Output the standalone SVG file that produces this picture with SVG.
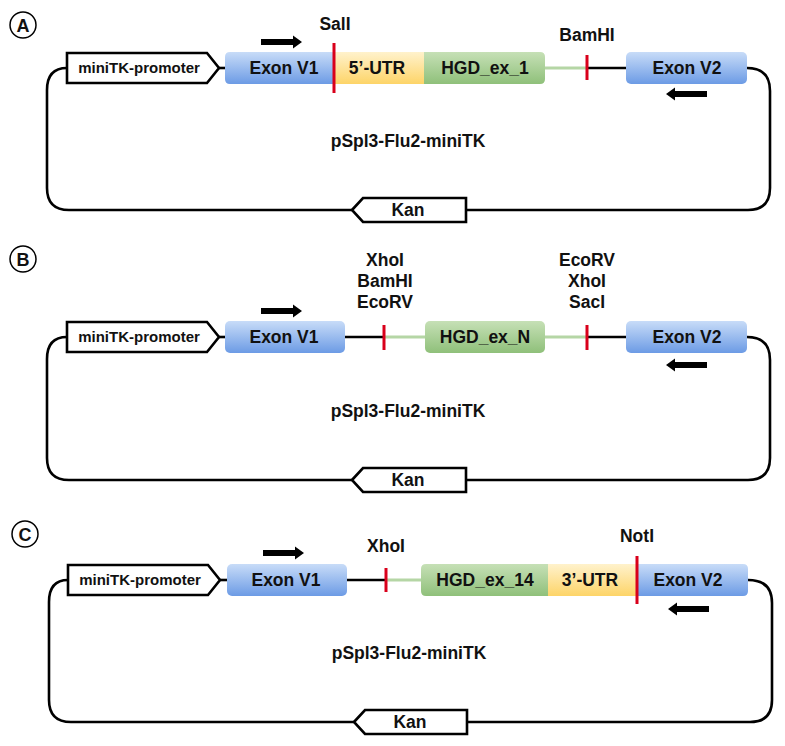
<svg xmlns="http://www.w3.org/2000/svg" width="785" height="746" viewBox="0 0 785 746">
<defs>
<linearGradient id="gBlue" x1="0" y1="0" x2="0" y2="1"><stop offset="0" stop-color="#c8dcf8"/><stop offset="1" stop-color="#6c9be5"/></linearGradient>
<linearGradient id="gYel" x1="0" y1="0" x2="0" y2="1"><stop offset="0" stop-color="#fff2cc"/><stop offset="1" stop-color="#fdd468"/></linearGradient>
<linearGradient id="gGrn" x1="0" y1="0" x2="0" y2="1"><stop offset="0" stop-color="#c6e0b6"/><stop offset="1" stop-color="#8fc07a"/></linearGradient>
<path id="fwd" d="M0,-3 H32 V-6.5 L41,0 L32,6.5 V3 H0 Z"/>
<path id="rev" d="M0,-3 H-32 V-6.5 L-41,0 L-32,6.5 V3 H0 Z"/>
</defs>
<style>
text{font-family:"Liberation Sans",Arial,sans-serif;font-weight:bold;fill:#111;text-anchor:middle}
.t{font-size:17.5px}
.p{font-size:15px}
.c{font-size:18px}
.line{fill:none;stroke:#000;stroke-width:2.6}
.gl{fill:none;stroke:#b5d6a5;stroke-width:3}
.red{fill:none;stroke:#d9001b;stroke-width:3}
.prom{fill:#fff;stroke:#000;stroke-width:2.6}
.circ{fill:#fff;stroke:#000;stroke-width:1.5}
.blue{fill:url(#gBlue)}
.yel{fill:url(#gYel)}
.grn{fill:url(#gGrn)}
.arr{fill:#000}
</style>
<rect width="785" height="746" fill="#fff"/>

<g id="connectors">
<!-- A -->
<path class="line" d="M747,68 Q770,68 770,91 V188 Q770,210 748,210 H466"/>
<path class="line" d="M352,210 H69 Q47,210 47,188 V90 Q47,68 67,68"/>
<path class="line" d="M219,68 H225"/>
<path class="gl" d="M545,68 H587"/>
<path class="line" d="M587,68 H626"/>
<!-- B -->
<path class="line" d="M747,337 Q770,337 770,360 V458 Q770,480 748,480 H466"/>
<path class="line" d="M352,480 H69 Q47,480 47,458 V359 Q47,337 67,337"/>
<path class="line" d="M219,337 H225"/>
<path class="line" d="M345,337 H384"/>
<path class="gl" d="M384,337 H425"/>
<path class="gl" d="M545,337 H587"/>
<path class="line" d="M587,337 H626"/>
<!-- C -->
<path class="line" d="M748,580 Q772,580 772,603 V700 Q772,722 750,722 H467"/>
<path class="line" d="M354,722 H71 Q49,722 49,700 V602 Q49,580 68,580"/>
<path class="line" d="M220,580 H227"/>
<path class="line" d="M347,580 H386"/>
<path class="gl" d="M386,580 H421"/>
</g>

<!-- Panel A -->
<g id="labelA"><circle class="circ" cx="23" cy="25" r="13"/><text class="c" x="23" y="31.5">A</text></g>
<g id="promA"><path class="prom" d="M67,53 H207 L219,68 L207,83 H67 Z"/><text class="p" x="139" y="73">miniTK-promoter</text></g>
<g id="exonV1A"><path class="blue" d="M230,52 H334 V84 H230 Q225,84 225,79 V57 Q225,52 230,52 Z"/><text class="t" x="284" y="74">Exon V1</text></g>
<g id="utr5A"><rect class="yel" x="334" y="52" width="90" height="32"/><text class="t" x="377" y="74">5’-UTR</text></g>
<g id="hgd1A"><path class="grn" d="M424,52 H540 Q545,52 545,57 V79 Q545,84 540,84 H424 Z"/><text class="t" x="485" y="74">HGD_ex_1</text></g>
<g id="salA"><path class="red" d="M334,43 V93"/><text class="t" x="335" y="30">SalI</text></g>
<g id="bamA"><path class="red" d="M587,55 V80"/><text class="t" x="587" y="41">BamHI</text></g>
<g id="exonV2A"><rect class="blue" x="626" y="52" width="121" height="32" rx="5"/><text class="t" x="687" y="74">Exon V2</text></g>
<g id="kanA"><path class="prom" d="M352,210 L363,198 H466 V222 H363 Z"/><text class="t" x="408" y="216">Kan</text></g>
<g id="nameA"><text class="t" x="408" y="147">pSpl3-Flu2-miniTK</text></g>
<g id="arrowsA"><use class="arr" href="#fwd" x="261" y="42"/><use class="arr" href="#rev" x="707" y="94"/></g>

<!-- Panel B -->
<g id="labelB"><circle class="circ" cx="23" cy="259" r="13"/><text class="c" x="23" y="265.5">B</text></g>
<g id="promB"><path class="prom" d="M67,322 H207 L219,337 L207,352 H67 Z"/><text class="p" x="139" y="342">miniTK-promoter</text></g>
<g id="exonV1B"><rect class="blue" x="225" y="321" width="120" height="32" rx="5"/><text class="t" x="284" y="343">Exon V1</text></g>
<g id="site1B"><path class="red" d="M384,325 V350"/><text class="t" x="385" y="266">XhoI</text><text class="t" x="385" y="287">BamHI</text><text class="t" x="385" y="308">EcoRV</text></g>
<g id="hgdNB"><rect class="grn" x="425" y="321" width="120" height="32" rx="5"/><text class="t" x="485" y="343">HGD_ex_N</text></g>
<g id="site2B"><path class="red" d="M587,325 V350"/><text class="t" x="587" y="266">EcoRV</text><text class="t" x="587" y="287">XhoI</text><text class="t" x="587" y="308">SacI</text></g>
<g id="exonV2B"><rect class="blue" x="626" y="321" width="121" height="32" rx="5"/><text class="t" x="687" y="343">Exon V2</text></g>
<g id="kanB"><path class="prom" d="M352,480 L363,468 H466 V492 H363 Z"/><text class="t" x="408" y="486">Kan</text></g>
<g id="nameB"><text class="t" x="408" y="417">pSpl3-Flu2-miniTK</text></g>
<g id="arrowsB"><use class="arr" href="#fwd" x="261" y="311"/><use class="arr" href="#rev" x="707" y="365"/></g>

<!-- Panel C -->
<g id="labelC"><circle class="circ" cx="25" cy="534" r="13"/><text class="c" x="25" y="540.5">C</text></g>
<g id="promC"><path class="prom" d="M68,565 H208 L220,580 L208,595 H68 Z"/><text class="p" x="140" y="585">miniTK-promoter</text></g>
<g id="exonV1C"><rect class="blue" x="227" y="564" width="120" height="32" rx="5"/><text class="t" x="286" y="586">Exon V1</text></g>
<g id="xhoC"><path class="red" d="M386,568 V592"/><text class="t" x="386" y="552">XhoI</text></g>
<g id="hgd14C"><path class="grn" d="M426,564 H548 V596 H426 Q421,596 421,591 V569 Q421,564 426,564 Z"/><text class="t" x="485" y="586">HGD_ex_14</text></g>
<g id="utr3C"><rect class="yel" x="548" y="564" width="89" height="32"/><text class="t" x="590" y="586">3’-UTR</text></g>
<g id="exonV2C"><path class="blue" d="M637,564 H743 Q748,564 748,569 V591 Q748,596 743,596 H637 Z"/><text class="t" x="688" y="586">Exon V2</text></g>
<g id="notC"><path class="red" d="M637,556 V604"/><text class="t" x="637" y="542">NotI</text></g>
<g id="kanC"><path class="prom" d="M354,722 L365,710 H467 V734 H365 Z"/><text class="t" x="410" y="728">Kan</text></g>
<g id="nameC"><text class="t" x="409" y="659">pSpl3-Flu2-miniTK</text></g>
<g id="arrowsC"><use class="arr" href="#fwd" x="263" y="553"/><use class="arr" href="#rev" x="709" y="609"/></g>
</svg>
